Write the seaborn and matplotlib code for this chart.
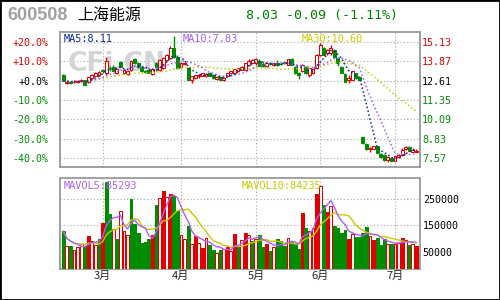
import numpy as np
import pandas as pd
import matplotlib
matplotlib.use("Agg")
import matplotlib.pyplot as plt
import seaborn as sns
from matplotlib.patches import Rectangle

# ---------------- data ----------------
opens = [12.98, 12.46, 12.52, 12.50, 12.52, 12.58, 12.62, 12.50, 12.78, 12.92,
         12.95, 13.30, 13.09, 13.45, 13.48, 13.09, 13.80, 13.10, 13.05, 13.31,
         14.00, 13.78, 13.48, 13.20, 13.30, 13.05, 13.74, 13.30, 13.41, 13.96,
         14.06, 14.71, 14.17, 13.50, 13.68, 13.41, 12.62, 12.78, 12.88, 12.92,
         12.88, 13.13, 12.98, 12.72, 12.83, 12.66, 12.92, 13.09, 13.13, 13.26,
         13.31, 13.31, 13.63, 13.78, 13.74, 13.91, 13.70, 13.57, 13.72, 13.60,
         13.78, 13.70, 13.80, 13.63, 14.02, 13.52, 13.10, 13.20, 13.52, 12.98,
         13.09, 13.41, 14.28, 14.71, 14.39, 14.39, 14.61, 14.06, 13.48, 13.05,
         12.62, 12.66, 13.09, 12.87, 8.93, 8.50, 8.20, 8.20, 8.37, 7.85,
         7.78, 7.45, 7.56, 7.41, 7.67, 7.78, 8.15, 8.32, 8.00, 8.00]
highs = [13.02, 12.62, 12.58, 12.62, 12.66, 12.72, 12.66, 12.85, 13.02, 13.16,
         13.22, 13.36, 14.11, 13.55, 13.60, 13.38, 13.86, 13.35, 13.30, 13.95,
         14.05, 13.82, 13.55, 13.30, 13.35, 13.38, 13.80, 14.00, 14.15, 14.35,
         14.87, 15.47, 14.25, 13.80, 13.82, 13.50, 12.92, 13.00, 13.05, 13.12,
         13.12, 13.18, 13.02, 12.90, 12.88, 12.84, 13.10, 13.25, 13.38, 13.45,
         13.56, 13.78, 13.98, 14.00, 14.06, 13.98, 13.82, 13.78, 13.80, 13.78,
         13.92, 13.78, 13.84, 14.02, 14.10, 13.58, 13.15, 13.66, 13.58, 13.45,
         13.40, 14.32, 15.04, 14.80, 14.65, 14.93, 14.66, 14.17, 13.55, 13.10,
         12.98, 13.22, 13.12, 12.92, 8.97, 8.55, 8.32, 8.40, 8.40, 7.90,
         7.82, 7.70, 7.62, 7.75, 7.88, 8.25, 8.36, 8.40, 8.25, 8.15]
lows = [12.58, 12.40, 12.42, 12.45, 12.48, 12.52, 12.30, 12.46, 12.74, 12.88,
        12.90, 13.12, 12.98, 13.25, 13.20, 13.02, 13.48, 13.05, 13.00, 13.25,
        13.70, 13.45, 13.18, 13.10, 13.10, 13.00, 13.25, 13.25, 13.38, 13.90,
        14.00, 14.10, 13.38, 13.45, 13.60, 12.62, 12.48, 12.72, 12.80, 12.88,
        12.82, 12.90, 12.72, 12.66, 12.62, 12.60, 12.88, 13.02, 13.10, 13.20,
        13.28, 13.28, 13.58, 13.72, 13.65, 13.55, 13.50, 13.52, 13.60, 13.55,
        13.58, 13.62, 13.66, 13.60, 13.60, 13.05, 12.70, 13.15, 13.05, 12.87,
        13.05, 13.38, 14.20, 14.25, 14.30, 14.28, 14.10, 13.57, 13.10, 12.50,
        12.48, 12.62, 12.72, 12.62, 8.50, 8.12, 8.00, 8.15, 7.90, 7.62,
        7.42, 7.35, 7.40, 7.38, 7.62, 7.75, 8.10, 8.02, 7.96, 7.96]
closes = [12.61, 12.52, 12.48, 12.55, 12.60, 12.66, 12.34, 12.83, 12.98, 13.12,
          13.15, 13.20, 13.85, 13.41, 13.26, 13.35, 13.52, 13.31, 13.26, 13.91,
          13.74, 13.48, 13.20, 13.15, 13.13, 13.35, 13.48, 13.96, 14.06, 14.28,
          14.71, 14.17, 13.41, 13.72, 13.74, 12.66, 12.90, 12.95, 13.00, 13.08,
          13.05, 12.92, 12.78, 12.86, 12.66, 12.80, 13.09, 13.20, 13.35, 13.41,
          13.52, 13.74, 13.91, 13.96, 14.00, 13.57, 13.55, 13.74, 13.68, 13.74,
          13.65, 13.68, 13.72, 14.00, 13.65, 13.09, 13.00, 13.63, 13.09, 13.41,
          13.35, 14.28, 14.93, 14.28, 14.61, 14.71, 14.13, 13.74, 13.13, 12.55,
          12.80, 13.20, 12.76, 12.66, 8.58, 8.15, 8.26, 8.37, 7.93, 7.67,
          7.46, 7.65, 7.42, 7.71, 7.80, 8.12, 8.28, 8.06, 8.12, 8.03]
volumes_k = [129, 72, 72, 57, 67, 79, 72, 110, 92, 76,
             97, 158, 315, 194, 137, 99, 205, 129, 114, 250,
             156, 123, 84, 88, 99, 114, 230, 254, 282, 258,
             270, 264, 207, 114, 99, 148, 79, 111, 83, 64,
             101, 76, 57, 46, 57, 60, 69, 53, 118, 69,
             95, 120, 112, 91, 100, 112, 69, 78, 53, 68,
             97, 91, 72, 101, 88, 81, 59, 199, 140, 128,
             142, 270, 301, 228, 203, 224, 148, 139, 123, 133,
             99, 118, 107, 107, 123, 143, 110, 95, 102, 76,
             99, 79, 78, 79, 82, 104, 95, 76, 80, 70]
# h = red hollow, f = red filled, g = green
vol_style = list("ghghhhgfhh" "gfgghghhhg" "gggggfghfh" "fgghhghfhf"
                 "hgghghfhfg" "hfhghggfgh" "ggghgggfgh" "hfhgfhgggg"
                 "fhgggghfgg" "ghghhfhghf")

month_labels = ["3月", "4月", "5月", "6月", "7月"]
month_index = [11, 33, 54, 72, 93]

base_price = 12.61
pct_levels = [20, 10, 0, -10, -20, -30, -40]
pct_labels = ["+20.0%", "+10.0%", "+0.0%", "-10.0%", "-20.0%", "-30.0%", "-40.0%"]
price_labels = ["15.13", "13.87", "12.61", "11.35", "10.09", "8.83", "7.57"]
vol_ticks = [250000, 150000, 50000]
vol_tick_labels = ["250000", "150000", "50000"]

stock_code = "600508"
stock_name = "上海能源"
quote_text = "8.03 -0.09 (-1.11%)"
ma_texts = ["MA5:8.11", "MA10:7.83", "MA30:10.60"]
mavol_texts = ["MAVOL5:85293", "MAVOL10:84235"]

# ---------------- style ----------------
sns.set_theme(style="white")
plt.rcParams['font.family'] = ['DejaVu Sans', 'Noto Sans CJK SC']
MONO = ['DejaVu Sans Mono', 'DejaVu Sans']
CJK = ['Noto Sans CJK SC', 'DejaVu Sans']

RED = '#E00000'
GREEN = '#008C00'
MA5_C = '#0A2A9A'
MA10_C = '#A060F0'
MA30_C = '#CCCC00'
FRAME = '#999999'
GRID = '#A8A8A8'

df = pd.DataFrame({'i': np.arange(len(closes)), 'open': opens, 'high': highs,
                   'low': lows, 'close': closes,
                   'vol': np.array(volumes_k, dtype=float) * 1000,
                   'vstyle': vol_style})
df['ma5'] = df['close'].rolling(5, min_periods=1).mean()
df['ma10'] = df['close'].rolling(10, min_periods=1).mean()
df['ma30'] = df['close'].rolling(30, min_periods=1).mean()
df['mv5'] = df['vol'].rolling(5, min_periods=1).mean()
df['mv10'] = df['vol'].rolling(10, min_periods=1).mean()

W, H = 500, 300
fig = plt.figure(figsize=(5, 3), dpi=100)
fig.patch.set_facecolor('white')

ax = fig.add_axes([60 / W, 1 - 167 / H, 360 / W, (167 - 31.7) / H])
axv = fig.add_axes([60 / W, 1 - 269 / H, 360 / W, (269 - 178.3) / H])

XL = (-0.93, 100.02)
price_ticks = [base_price * (1 + p / 100) for p in pct_levels]

for a in (ax, axv):
    a.set_facecolor('white')
    a.set_xlim(*XL)
    for s in a.spines.values():
        s.set_color(FRAME)
        s.set_linewidth(1.3)
    a.tick_params(length=0)
    a.set_xticks(month_index)
    a.grid(True, color=GRID, linestyle=(0, (1, 2)), linewidth=0.8, zorder=0)
    a.set_axisbelow(True)

# ---------------- price panel ----------------
ax.set_ylim(7.006, 15.78)
ax.set_yticks(price_ticks)
ax.set_yticklabels(pct_labels, family=MONO, fontsize=7.2)
ax.tick_params(axis='y', pad=8.5)
for lbl, p in zip(ax.get_yticklabels(), pct_levels):
    lbl.set_color(RED if p > 0 else ('black' if p == 0 else GREEN))
ax.set_xticklabels([])

ax.text(0.158, 0.76, "CFi.CN", transform=ax.transAxes, fontsize=19,
        fontweight='bold', color='#D4D4D4', ha='center', va='center', zorder=1)

up = df['close'] >= df['open']
ccol = np.where(up, RED, GREEN)
ax.vlines(df['i'], df['low'], df['high'], colors=ccol, linewidth=1.0, zorder=3)
body = (df['close'] - df['open']).abs().clip(lower=0.01)
bottom = np.minimum(df['open'], df['close'])
ax.bar(df['i'], body, bottom=bottom, width=0.8,
       color=np.where(up, 'white', GREEN), edgecolor=ccol, linewidth=0.75, zorder=4)

for col, c in (('ma30', MA30_C), ('ma10', MA10_C), ('ma5', MA5_C)):
    sns.lineplot(data=df, x='i', y=col, ax=ax, color=c, linewidth=1.1,
                 linestyle=(0, (1, 1.6)), legend=False, zorder=5)
ax.set_xlabel('')
ax.set_ylabel('')
ax.set_xlim(*XL)

axr = ax.twinx()
axr.set_ylim(ax.get_ylim())
axr.set_yticks(price_ticks)
axr.set_yticklabels(price_labels, family=MONO, fontsize=7.2)
axr.tick_params(length=0, pad=1.5)
for lbl, p in zip(axr.get_yticklabels(), pct_levels):
    lbl.set_color(RED if p > 0 else ('black' if p == 0 else GREEN))
axr.grid(False)
for s in axr.spines.values():
    s.set_visible(False)

# ---------------- volume panel ----------------
VMIN, VMAX = -16000, 330000
axv.set_ylim(VMIN, VMAX)
axv.set_yticks(vol_ticks)
axv.yaxis.tick_right()
axv.set_yticklabels(vol_tick_labels, family=MONO, fontsize=7.2, color='black')
axv.tick_params(axis='y', pad=2)
vface = {'h': 'white', 'f': RED, 'g': GREEN}
vedge = {'h': RED, 'f': RED, 'g': GREEN}
axv.bar(df['i'], df['vol'] - VMIN, bottom=VMIN, width=0.8,
        color=[vface[s] for s in df['vstyle']],
        edgecolor=[vedge[s] for s in df['vstyle']], linewidth=0.75, zorder=3)
sns.lineplot(data=df, x='i', y='mv10', ax=axv, color='#C8C800', linewidth=1.0,
             legend=False, zorder=5)
sns.lineplot(data=df, x='i', y='mv5', ax=axv, color='#B060F0', linewidth=1.0,
             legend=False, zorder=6)
axv.set_xlabel('')
axv.set_ylabel('')
axv.set_xlim(*XL)
axv.set_xticklabels(month_labels, family=CJK, fontsize=8)
axv.tick_params(axis='x', pad=1.5)

# ---------------- texts ----------------
def ft(x, y, s, **kw):
    fig.text(x / W, 1 - y / H, s, va='center', ha='left', **kw)

ft(7, 16, stock_code, fontsize=13, color='#A0A0A0', fontweight='bold',
   family=['Liberation Sans', 'DejaVu Sans'])
ft(77, 15, stock_name, fontsize=11.5, color='black', family=CJK)
ft(246, 15, quote_text, fontsize=9.6, color='#008000', family=MONO)

for s, x, c in zip(ma_texts, (64, 183, 302), (MA5_C, MA10_C, MA30_C)):
    ft(x, 38.5, s, fontsize=7.4, color=c, family=MONO)
for s, x, c in zip(mavol_texts, (64, 242), ('#B060F0', '#C8C800')):
    ft(x, 186, s, fontsize=7.4, color=c, family=MONO)

fig.add_artist(Rectangle((0, 0), 1, 1, transform=fig.transFigure, fill=False,
                         edgecolor='black', linewidth=2))

fig.savefig("out.png", dpi=100, facecolor='white')
